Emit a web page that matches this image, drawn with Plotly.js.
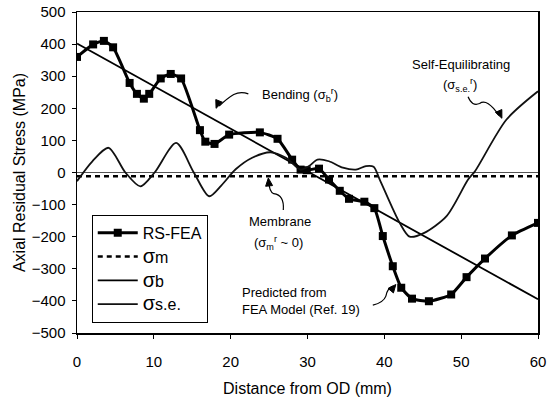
<!DOCTYPE html>
<html>
<head>
<meta charset="utf-8">
<script src="https://cdn.plot.ly/plotly-3.0.1.min.js"></script>
<style>html,body{margin:0;padding:0;background:#fff;}#chart{width:548px;height:401px;}</style>
</head>
<body>
<div id="chart"></div>
<script>
// RS-FEA measured/predicted points
const rsX = [0, 2.1, 3.5, 4.7, 6.85, 7.8, 8.7, 9.4, 10.9, 12.2, 13.55, 16, 16.7, 17.9, 19.8, 23.8, 26.1, 28, 29.1, 29.9, 31.5, 32.8, 34.2, 35.4, 37.4, 38.7, 39.8, 41.1, 42.2, 43.6, 45.8, 48.7, 50.7, 53.1, 56.6, 60];
const rsY = [360, 399, 410, 390, 279, 245, 230, 245, 293, 307, 293, 132, 96, 89, 118, 125, 105, 40, 9, 7, 12, -22, -57, -82, -91, -111, -198, -292, -359, -393, -401, -380, -326, -268, -196, -157];
// membrane component
const mX = [0, 60];
const mY = [-12, -12];
// bending component
const bX = [0, 60];
const bY = [402, -395];
// self-equilibrating component
const seX = [0, 2, 4.1, 6.3, 8.25, 10.1, 12.9, 15.2, 17.2, 18.8, 20.65, 22.8, 25.2, 27.2, 29.1, 30.2, 31.3, 32.8, 34.6, 36.3, 37.6, 38.6, 39.4, 42, 43.3, 45.2, 48.1, 50.9, 51.8, 55.9, 60];
const seY = [-27, 35, 77, 0, -43, 0, 92, 0, -74, -40, 10, 46, 63, 46, 9, 20, 40, 35, 15, 9, 20, 18, -22, -157, -200, -188, -136, -22, 4, 165, 253];

const xTicks = [0, 10, 20, 30, 40, 50, 60];
const yTicks = [-500, -400, -300, -200, -100, 0, 100, 200, 300, 400, 500];

const font = "Liberation Sans, Arial, sans-serif";

const traces = [
  {x: rsX, y: rsY, name: 'RS-FEA', mode: 'lines+markers', line: {color: '#000', width: 3, shape: 'spline', smoothing: 0.5}, marker: {symbol: 'square', size: 8, color: '#000'}},
  {x: mX, y: mY, name: '<span style="font-size:20px">σ</span>m', mode: 'lines', line: {color: '#000', width: 2.5, dash: '5px,4px'}},
  {x: bX, y: bY, name: '<span style="font-size:20px">σ</span>b', mode: 'lines', line: {color: '#000', width: 1.8}},
  {x: seX, y: seY, name: '<span style="font-size:20px">σ</span>s.e.', mode: 'lines', line: {color: '#111', width: 1.8, shape: 'spline', smoothing: 0.8}}
];

// plot scale (px per data unit) used only to shape the arrow heads
const PX_X = 461 / 60, PX_Y = 321 / 1000;

function curve(pts) {
  let d = 'M ' + pts[0][0] + ',' + pts[0][1];
  for (let i = 1; i < pts.length; i += 2) {
    d += ' Q ' + pts[i][0] + ',' + pts[i][1] + ' ' + pts[i+1][0] + ',' + pts[i+1][1];
  }
  return d;
}
function head(x, y, dx, dy) {
  // dx, dy: pixel direction from head back toward the tail (screen coords, y down)
  const L = Math.hypot(dx, dy), ux = dx / L, uy = dy / L;
  const len = 8, w = 3.5;
  const bx = ux * len, by = uy * len;
  const p1 = [bx - uy * w, by + ux * w], p2 = [bx + uy * w, by - ux * w];
  const toD = p => [x + p[0] / PX_X, y - p[1] / PX_Y];
  const a = toD(p1), b = toD(p2);
  return {type: 'path', xref: 'x', yref: 'y', path: 'M ' + x + ',' + y + ' L ' + a[0] + ',' + a[1] + ' L ' + b[0] + ',' + b[1] + ' Z', fillcolor: '#000', line: {color: '#000', width: 1}};
}
const arrowPaths = [
  [[22.3, 245], [21.3, 254], [20.4, 243], [19.6, 232], [18.5, 207]],
  [[50.9, 236], [51.4, 205], [52.4, 215], [53.4, 232], [54.9, 178]],
  [[26.85, -117], [27.0, -70], [25.6, -66], [25.0, -60], [24.95, -25]],
  [[38.5, -413], [39.9, -405], [40.2, -385], [40.4, -360], [41.1, -354]]
];
const shapes = arrowPaths.map(p => ({type: 'path', xref: 'x', yref: 'y', path: curve(p), line: {color: '#000', width: 1.2}}))
  .concat([
    head(18.1, 200, 4, -10),
    head(55.3, 169, -4, -9),
    head(24.9, -17, 1, 10),
    head(41.5, -349, -5, 6)
  ]);

const txt = (x, y, t, opts) => Object.assign({x: x, y: y, xref: 'x', yref: 'y', text: t, showarrow: false, font: {family: font, size: 13, color: '#000'}}, opts || {});

const annotations = [
  txt(29.0, 241, 'Bending (σ<sub>b</sub><sup>r</sup>)'),
  txt(50.0, 335, 'Self-Equilibrating'),
  txt(49.9, 273, '(σ<sub>s.e.</sub><sup>r</sup>)'),
  txt(26.4, -154, 'Membrane'),
  txt(26.2, -220, '(σ<sub>m</sub><sup>r</sup> ~ 0)'),
  txt(21.2, -400, 'Predicted from<br>FEA Model (Ref. 19)', {xanchor: 'left', align: 'left'})
];

const layout = {
  width: 548, height: 401,
  margin: {l: 77, r: 10, t: 12, b: 68},
  paper_bgcolor: '#fff', plot_bgcolor: '#fff',
  font: {family: font, size: 15, color: '#000'},
  showlegend: true,
  legend: {x: 0.032, y: 0.368, xanchor: 'left', yanchor: 'top', bgcolor: '#fff', bordercolor: '#000', borderwidth: 1, font: {family: font, size: 16, color: '#000'}, itemwidth: 40, tracegroupgap: 0},
  xaxis: {range: [0, 60], tickvals: xTicks, ticks: 'outside', ticklen: 4, tickcolor: '#000', showline: true, linecolor: '#000', linewidth: 1.5, mirror: true, showgrid: false, zeroline: false, ticklabelstandoff: 10, tickfont: {size: 15},
    title: {text: 'Distance from OD (mm)', font: {size: 16}, standoff: 14}},
  yaxis: {range: [-500, 500], tickvals: yTicks, ticks: 'outside', ticklen: 4, tickcolor: '#000', showline: true, linecolor: '#000', linewidth: 1.5, mirror: true, showgrid: false, zeroline: true, zerolinecolor: '#555', zerolinewidth: 1, ticklabelstandoff: 3, tickfont: {size: 15},
    title: {text: 'Axial Residual Stress (MPa)', font: {size: 16}, standoff: 2}},
  shapes: shapes,
  annotations: annotations
};

Plotly.newPlot('chart', traces, layout, {displayModeBar: false, staticPlot: true});
</script>
</body>
</html>
